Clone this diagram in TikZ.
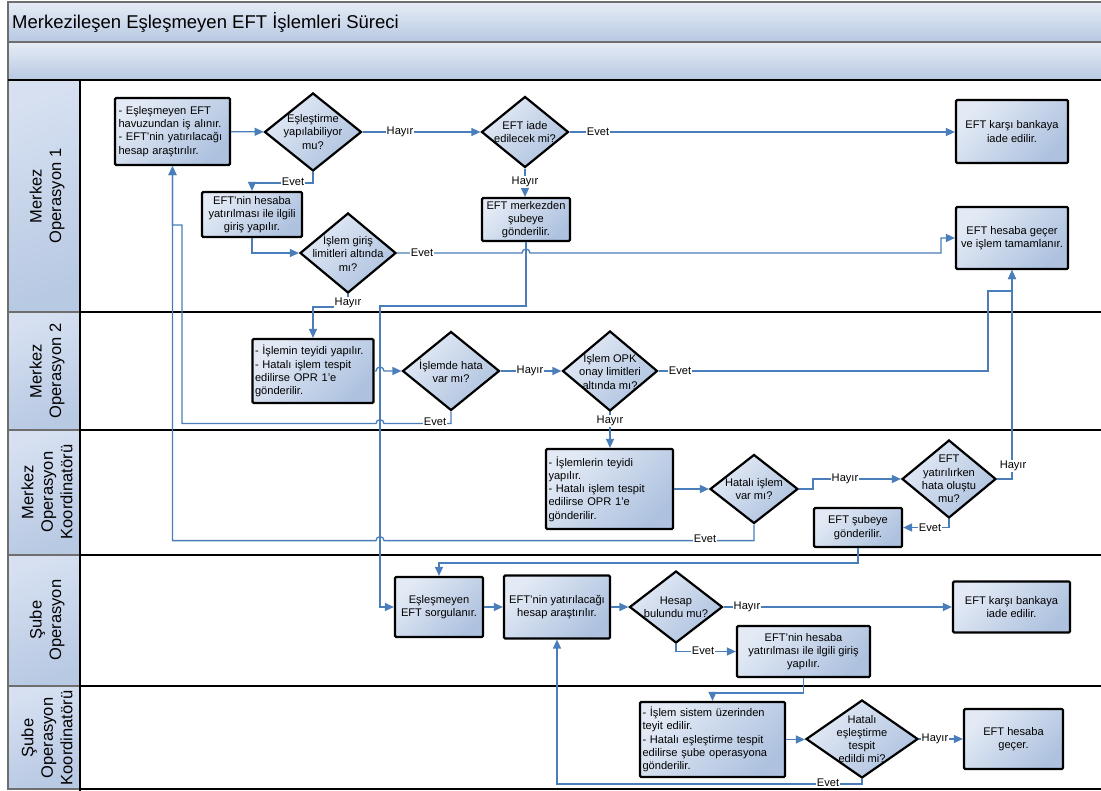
\documentclass[tikz,border=0pt]{standalone}
\usepackage{fontspec}
\setmainfont{Liberation Sans}
\usetikzlibrary{arrows.meta,shapes.geometric,calc}

\definecolor{flowblue}{HTML}{4A7EBB}
\definecolor{boxlight}{HTML}{E3EAF5}
\definecolor{boxdark}{HTML}{AEC2DF}
\definecolor{barlight}{HTML}{E6ECF6}
\definecolor{bardark}{HTML}{B7C8E2}
\definecolor{headlight}{HTML}{D6E0F1}
\definecolor{headdark}{HTML}{B8C9E3}
\definecolor{framegray}{HTML}{6E6E6E}

\newcommand{\nodefont}{\fontsize{11.1pt}{13.3pt}\selectfont}
\newcommand{\lanefont}{\fontsize{16.5pt}{19.5pt}\selectfont}
\newcommand{\titlefont}{\fontsize{18.5pt}{22pt}\selectfont}

\tikzset{
  task/.style={draw=black, line width=2.2pt, rounded corners=1.2pt,
    top color=boxlight, bottom color=boxdark, shading angle=45,
    font=\nodefont, align=center, inner sep=2pt},
  notebox/.style={task, align=left, inner sep=2.5pt},
  decision/.style={diamond, draw=black, line width=2.2pt,
    top color=boxlight, bottom color=boxdark, shading angle=45,
    inner sep=0pt},
  dtext/.style={font=\nodefont, align=center, inner sep=0pt},
  flow/.style={draw=flowblue, line width=1.3pt, line join=miter,
    -{Triangle[length=9pt,width=8pt]}},
  lbl/.style={fill=white, font=\nodefont, inner sep=0.6pt},
  headcell/.style={draw=framegray, line width=1.2pt,
    top color=headlight, bottom color=headdark, shading angle=20},
  headtext/.style={font=\lanefont, align=center, rotate=90, inner sep=0pt},
  bar/.style={draw=framegray, line width=1.2pt,
    top color=barlight, bottom color=bardark},
  lanesep/.style={draw=black, line width=2.8pt}
}

\begin{document}
\begin{tikzpicture}[x=1pt, y=-1pt]
\useasboundingbox (0,0) rectangle (1101,791);
\fill[white] (0,0) rectangle (1101,791);

% pool header bars
\path[bar] (8,2) rectangle (1102,42);
\path[bar] (8,42) rectangle (1102,80);
\node[font=\titlefont, anchor=west, inner sep=0pt] (title) at (12,22)
  {Merkezileşen Eşleşmeyen EFT İşlemleri Süreci};

% lane header cells
\path[headcell] (8,80) rectangle (80,312);
\path[headcell] (8,312) rectangle (80,430);
\path[headcell] (8,430) rectangle (80,555);
\path[headcell] (8,555) rectangle (80,686);
\path[headcell] (8,686) rectangle (80,789);
\node[headtext] (h1) at (47,196) {Merkez\\Operasyon 1};
\node[headtext] (h2) at (47,371) {Merkez\\Operasyon 2};
\node[headtext] (h3) at (47,492) {Merkez\\Operasyon\\Koordinatörü};
\node[headtext] (h4) at (47,620) {Şube\\Operasyon};
\node[headtext] (h5) at (47,738) {Şube\\Operasyon\\Koordinatörü};

% lane separators
\draw[lanesep] (8,80) -- (1101,80);
\draw[lanesep] (80,312) -- (1101,312);
\draw[lanesep] (80,430) -- (1101,430);
\draw[lanesep] (80,555) -- (1101,555);
\draw[lanesep] (80,686) -- (1101,686);
\draw[black, line width=2pt] (80,80) -- (80,791);
\draw[black, line width=1.2pt] (80,789) -- (1101,789);

% ---------- Merkez Operasyon 1 ----------
\node[notebox, minimum width=115, minimum height=67, text width=108] (b1) at (172.5,131.5)
  {- Eşleşmeyen EFT\\havuzundan iş alınır.\\- EFT’nin yatırılacağı\\hesap araştırılır.};
\node[decision, minimum width=97, minimum height=78] (d1) at (313,132) {};
\node[dtext] (d1t) at (d1) {Eşleştirme\\yapılabiliyor\\mu?};
\node[decision, minimum width=87, minimum height=71] (d2) at (525,132) {};
\node[dtext] (d2t) at (d2) {EFT iade\\edilecek mi?};
\node[task, minimum width=112, minimum height=63] (iade1) at (1012,131.5)
  {EFT karşı bankaya\\iade edilir.};
\node[task, minimum width=100, minimum height=45] (b2) at (252,214.5)
  {EFT’nin hesaba\\yatırılması ile ilgili\\giriş yapılır.};
\node[task, minimum width=88, minimum height=43] (merk) at (526,219.5)
  {EFT merkezden\\şubeye\\gönderilir.};
\node[decision, minimum width=96, minimum height=80] (d3) at (348,253) {};
\node[dtext] (d3t) at (d3) {İşlem giriş\\limitleri altında\\mı?};
\node[task, minimum width=112, minimum height=62] (gecer) at (1012,238)
  {EFT hesaba geçer\\ve işlem tamamlanır.};

% ---------- Merkez Operasyon 2 ----------
\node[notebox, minimum width=120, minimum height=64, text width=116] (b3) at (313,371)
  {- İşlemin teyidi yapılır.\\- Hatalı işlem tespit\\edilirse OPR 1’e\\gönderilir.};
\node[decision, minimum width=97, minimum height=79] (d4) at (451,371) {};
\node[dtext] (d4t) at (d4) {İşlemde hata\\var mı?};
\node[decision, minimum width=95, minimum height=80] (d5) at (610,371) {};
\node[dtext] (d5t) at (d5) {İşlem OPK\\onay limitleri\\altında mı?};

% ---------- Merkez Operasyon Koordinatörü ----------
\node[notebox, minimum width=127, minimum height=80, text width=122] (b4) at (609.5,489)
  {- İşlemlerin teyidi\\yapılır.\\- Hatalı işlem tespit\\edilirse OPR 1’e\\gönderilir.};
\node[decision, minimum width=88, minimum height=69] (d6) at (754,489) {};
\node[dtext] (d6t) at (d6) {Hatalı işlem\\var mı?};
\node[decision, minimum width=94, minimum height=78] (d7) at (949,479) {};
\node[dtext] (d7t) at (d7) {EFT\\yatırılırken\\hata oluştu\\mu?};
\node[task, minimum width=88, minimum height=39] (b5) at (858,527.5)
  {EFT şubeye\\gönderilir.};

% ---------- Şube Operasyon ----------
\node[task, minimum width=88, minimum height=60] (b6) at (439,607)
  {Eşleşmeyen\\EFT sorgulanır.};
\node[task, minimum width=106, minimum height=63] (b7) at (557,607)
  {EFT’nin yatırılacağı\\hesap araştırılır.};
\node[decision, minimum width=93, minimum height=72] (d8) at (676,607) {};
\node[dtext] (d8t) at (d8) {Hesap\\bulundu mu?};
\node[task, minimum width=117, minimum height=51] (iade2) at (1011.5,607)
  {EFT karşı bankaya\\iade edilir.};
\node[task, minimum width=133, minimum height=51] (b8) at (803.5,651.5)
  {EFT’nin hesaba\\yatırılması ile ilgili giriş\\yapılır.};

% ---------- Şube Operasyon Koordinatörü ----------
\node[notebox, minimum width=145, minimum height=75, text width=140] (b9) at (712.5,739.5)
  {- İşlem sistem üzerinden\\teyit edilir.\\- Hatalı eşleştirme tespit\\edilirse şube operasyona\\gönderilir.};
\node[decision, minimum width=112, minimum height=78] (d9) at (862,739) {};
\node[dtext] (d9t) at (d9) {Hatalı\\eşleştirme\\tespit\\edildi mi?};
\node[task, minimum width=99, minimum height=60] (gecer2) at (1013.5,739)
  {EFT hesaba\\geçer.};

% ---------- routing points ----------
\coordinate (trunk) at (380,306);
\coordinate (j1) at ($(gecer.west)+(-14,0)$);
\coordinate (r1) at (182,225);
\coordinate (w1) at (988,291);
\coordinate (e1) at ($(d4.south)+(0,12)$);
\coordinate (e2) at ($(d6.south)+(0,16)$);

% ---------- connectors ----------
\draw[flow] (b1) -- (d1);
\draw[flow] (d1) -- (d2);
\draw[flow] (d2) -- (iade1.west |- d2.east);
\draw[flow] (d2.south) -- (d2.south |- merk.north);
\draw[flow] (d1.south) -- ++(0,11) -| (b2.north);
\draw[flow] (b2.south) |- (d3.west);
\draw[flow] (d3.east) -- ($(d3.east -| merk.south)+(-4,0)$)
  arc[start angle=180, end angle=0, radius=4pt] -- (d3.east -| j1) |- (gecer.west);
\draw[flow] (merk.south) |- (trunk) |- (b6.west);
\draw[flow] (d3.south) -- ++(0,13) -| (b3.north);
\draw[flow] (b3.east) -- ($(b3.east -| trunk)+(-4,0)$)
  arc[start angle=180, end angle=0, radius=4pt] -- (d4.west);
\draw[flow] (d4.south) -- (e1) -- ($(e1 -| trunk)+(4,0)$)
  arc[start angle=0, end angle=180, radius=4pt] -- (e1 -| r1) -- (r1)
  -- (r1 -| b1.south) -- (b1.south);
\draw[flow] (d4) -- (d5);
\draw[flow] (d5.east) -| (w1) -| (gecer.south);
\draw[flow] (d5.south) -- (d5.south |- b4.north);
\draw[flow] (b4) -- (d6);
\draw[flow] (d6.south) -- (e2) -- ($(e2 -| trunk)+(4,0)$)
  arc[start angle=0, end angle=180, radius=4pt] -- (e2 -| b1.south) -- (b1.south);
\draw[flow] (d6.east) -- ++(14,0) |- (d7.west);
\draw[flow] (d7.east) -| (gecer.south);
\draw[flow] (d7.south) |- (b5.east);
\draw[flow] (b5.south) -- ++(0,15) -| (b6.north);
\draw[flow] (b6) -- (b7);
\draw[flow] (b7) -- (d8);
\draw[flow] (d8) -- (iade2);
\draw[flow] (d8.south) |- (b8.west);
\draw[flow] (b8.south) -- ++(0,15) -| (b9.north);
\draw[flow] (b9.east) -- (b9.east -| d9.west);
\draw[flow] (d9) -- (gecer2);
\draw[flow] (d9.south) -- ++(0,5) -| (b7.south);

% ---------- connector labels ----------
\node[lbl] (l1) at (400,132) {Hayır};
\node[lbl] (l2) at (598,132) {Evet};
\node[lbl] (l3) at (525,182) {Hayır};
\node[lbl] (l4) at (293,182) {Evet};
\node[lbl] (l5) at (422,253) {Evet};
\node[lbl] (l6) at (348,303) {Hayır};
\node[lbl] (l7) at (435,422) {Evet};
\node[lbl] (l8) at (530,371) {Hayır};
\node[lbl] (l9) at (680,371) {Evet};
\node[lbl] (l10) at (610,421) {Hayır};
\node[lbl] (l11) at (705,539) {Evet};
\node[lbl] (l12) at (845,479) {Hayır};
\node[lbl] (l13) at (1013,466) {Hayır};
\node[lbl] (l14) at (930,528) {Evet};
\node[lbl] (l15) at (747,607) {Hayır};
\node[lbl] (l16) at (703,651) {Evet};
\node[lbl] (l17) at (935,739) {Hayır};
\node[lbl] (l18) at (828,783) {Evet};
\end{tikzpicture}
\end{document}
